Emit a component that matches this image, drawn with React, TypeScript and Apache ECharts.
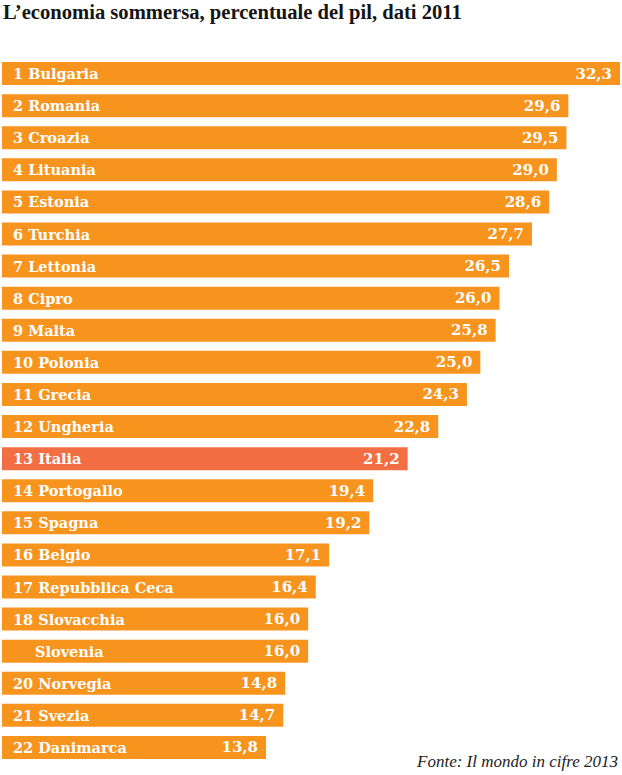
import React, { useEffect, useRef } from "react";
import * as echarts from "echarts";

const countries = [
  "1 Bulgaria", "2 Romania", "3 Croazia", "4 Lituania", "5 Estonia", "6 Turchia",
  "7 Lettonia", "8 Cipro", "9 Malta", "10 Polonia", "11 Grecia", "12 Ungheria",
  "13 Italia", "14 Portogallo", "15 Spagna", "16 Belgio", "17 Repubblica Ceca",
  "18 Slovacchia", "Slovenia", "20 Norvegia", "21 Svezia", "22 Danimarca",
];
const values = [
  32.3, 29.6, 29.5, 29.0, 28.6, 27.7, 26.5, 26.0, 25.8, 25.0, 24.3, 22.8,
  21.2, 19.4, 19.2, 17.1, 16.4, 16.0, 16.0, 14.8, 14.7, 13.8,
];
const highlight = "13 Italia";
const titleText = "L\u2019economia sommersa, percentuale del pil, dati 2011";
const sourceText = "Fonte: Il mondo in cifre 2013";

const ORANGE = "#f7941e";
const RED = "#f36f43";
const TITLE_FONT = "'Liberation Serif', serif";
const BAR_FONT = "'DejaVu Serif', serif";

export default function App() {
  const ref = useRef<HTMLDivElement>(null);
  useEffect(() => {
    if (!ref.current) return;
    const chart = echarts.init(ref.current, null, { renderer: "svg" });
    chart.setOption({
      animation: false,
      title: [
        {
          text: titleText,
          left: 3,
          top: 1,
          padding: 0,
          textStyle: { fontFamily: TITLE_FONT, fontSize: 20.6, fontWeight: "bold", color: "#151515" },
        },
        {
          text: sourceText,
          right: 4,
          top: 753,
          padding: 0,
          textStyle: { fontFamily: TITLE_FONT, fontSize: 17, fontStyle: "italic", fontWeight: "normal", color: "#222" },
        },
      ],
      grid: { left: 2, right: 2, top: 57.5, height: 706, containLabel: false },
      xAxis: { type: "value", min: 0, max: 32.3, show: false },
      yAxis: { type: "category", data: countries, inverse: true, show: false },
      series: [
        {
          type: "bar",
          barWidth: 23,
          data: countries.map((c, i) => ({
            value: values[i],
            itemStyle: { color: c === highlight ? RED : ORANGE },
            label: c === "Slovenia" ? { padding: [0, 0, 0, 22] } : undefined,
          })),
          label: {
            show: true,
            position: "insideLeft",
            distance: 11,
            formatter: (p: any) => countries[p.dataIndex],
            fontFamily: BAR_FONT,
            fontSize: 14.5,
            fontWeight: "bold",
            color: "#fff",
          },
        },
        {
          type: "bar",
          barWidth: 23,
          barGap: "-100%",
          data: values,
          itemStyle: { color: "rgba(0,0,0,0)" },
          label: {
            show: true,
            position: "insideRight",
            distance: 8,
            formatter: (p: any) => Number(p.value).toFixed(1).replace(".", ","),
            fontFamily: BAR_FONT,
            fontSize: 15,
            fontWeight: "bold",
            color: "#fff",
          },
        },
      ],
    });
    return () => chart.dispose();
  }, []);
  return (
    <div
      ref={ref}
      style={{ position: "absolute", left: 0, top: 0, width: 622, height: 775, background: "#fff" }}
    />
  );
}
